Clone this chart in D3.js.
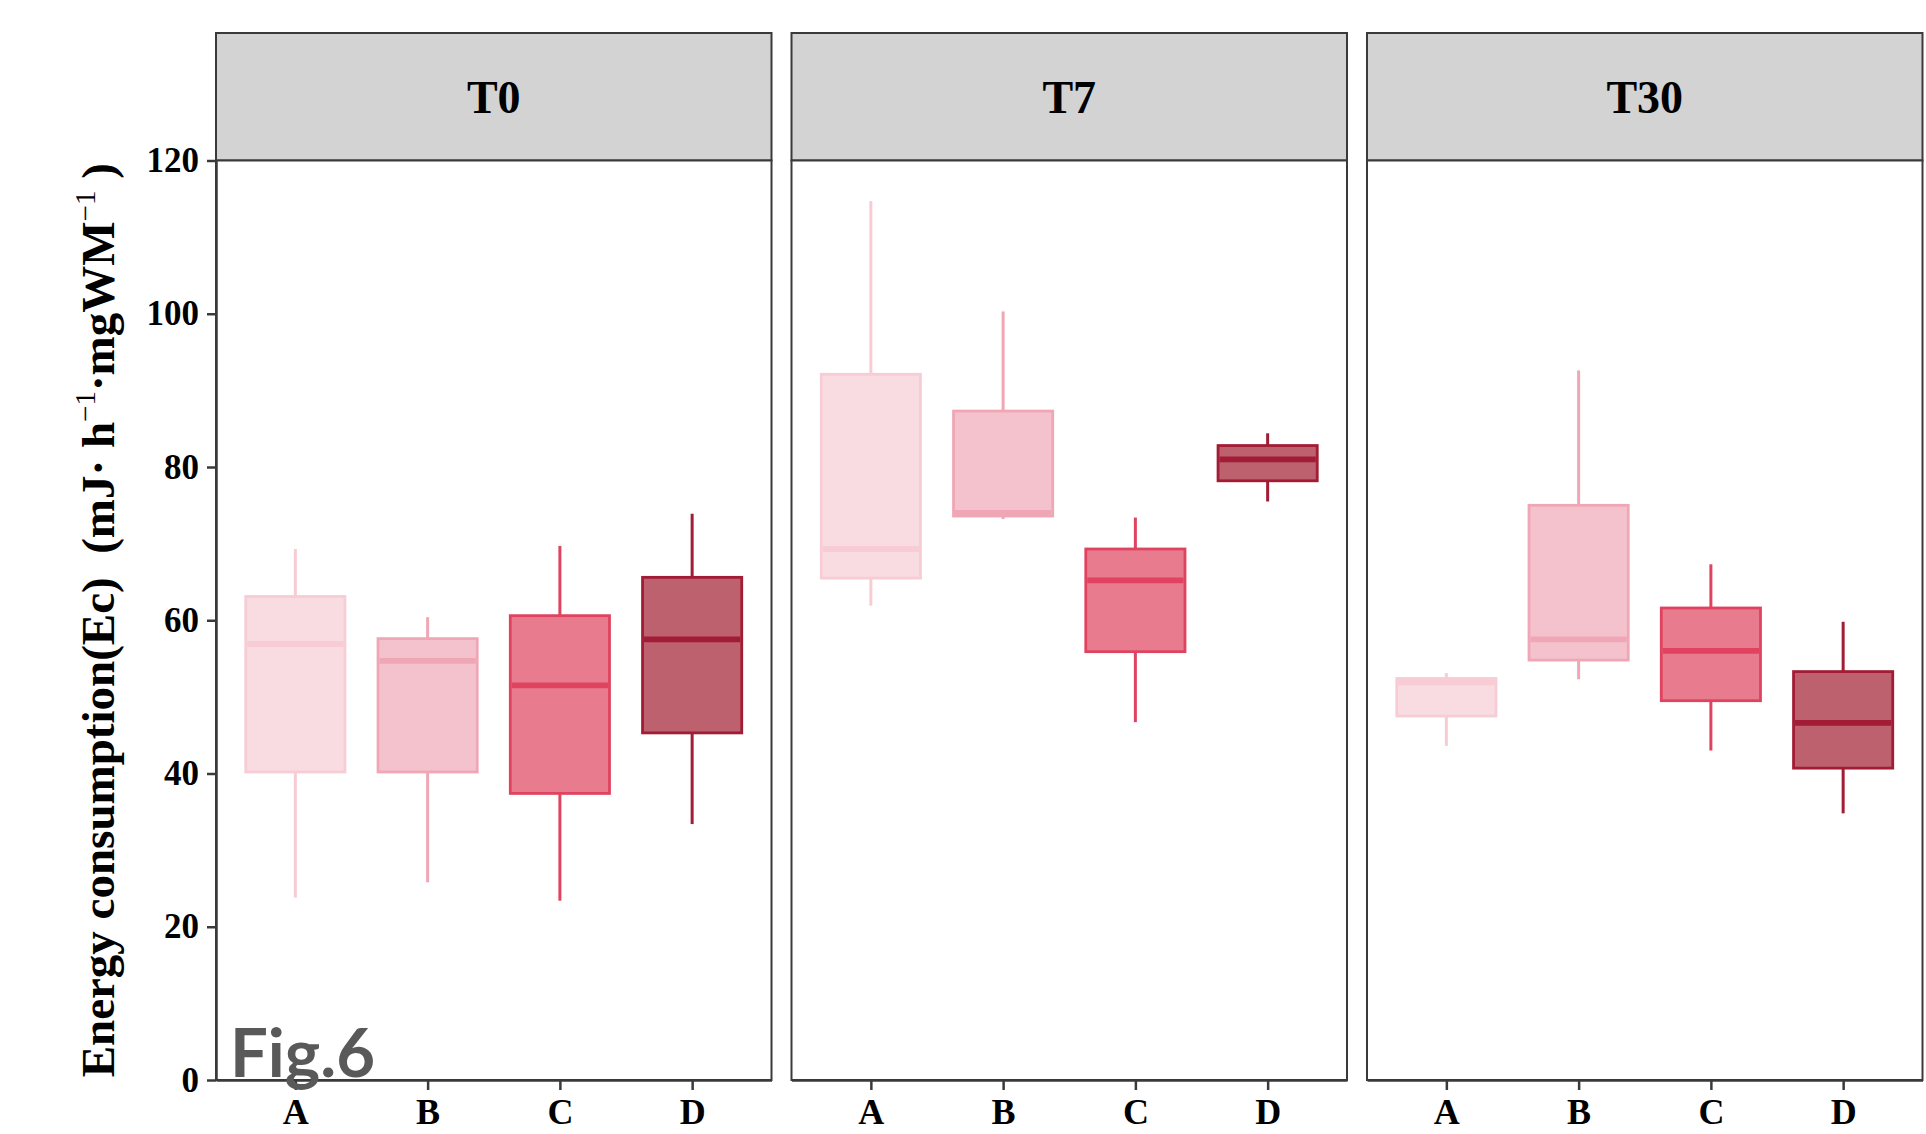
<!DOCTYPE html>
<html>
<head>
<meta charset="utf-8">
<script src="https://cdn.jsdelivr.net/npm/d3@7"></script>
<style>
  html, body { margin: 0; padding: 0; background: #ffffff; }
  svg { display: block; }
</style>
</head>
<body>
<svg id="chart" width="1926" height="1134"></svg>
<script>
// ---------- data ----------
const panels = ["T0", "T7", "T30"];
const categories = ["A", "B", "C", "D"];
// each entry: [lower whisker, Q1, median, Q3, upper whisker]
const statsT0 = [
  [23.8, 40.2, 56.9, 63.1, 69.3],
  [25.8, 40.2, 54.7, 57.6, 60.4],
  [23.4, 37.4, 51.5, 60.6, 69.7],
  [33.4, 45.3, 57.5, 65.6, 73.9]
];
const statsT7 = [
  [61.9, 65.5, 69.3, 92.1, 114.7],
  [73.2, 73.6, 74.0, 87.3, 100.3],
  [46.7, 55.9, 65.2, 69.3, 73.4],
  [75.5, 78.2, 81.0, 82.8, 84.4]
];
const statsT30 = [
  [43.6, 47.5, 51.9, 52.4, 53.1],
  [52.3, 54.8, 57.5, 75.0, 92.6],
  [43.0, 49.5, 56.0, 61.6, 67.3],
  [34.8, 40.7, 46.6, 53.3, 59.8]
];
const panelStats = [statsT0, statsT7, statsT30];
const yTicks = [0, 20, 40, 60, 80, 100, 120];
const yTitleMain = "Energy consumption(Ec)";

// ---------- styles ----------
const fillColors   = ["#f9dce2", "#f4c2cc", "#e87b8e", "#bd616e"];
const strokeColors = ["#f7ccd5", "#f0a7b5", "#e0435f", "#a11c34"];

const svg = d3.select("#chart");
const firstLeft = 216, panelW = 555.5, gap = 20;
const stripTop = 33, plotTop = 160.5, plotBottom = 1080;
const borderColor = "#3a3a3a";
const serif = "'Liberation Serif', 'Times New Roman', serif";

const y = d3.scaleLinear().domain([0, 120]).range([plotBottom, plotTop]);

panels.forEach((p, pi) => {
  const left = firstLeft + pi * (panelW + gap);
  const x = d3.scalePoint().domain(categories).range([left, left + panelW]).padding(0.6);
  const boxW = x.step() * 0.75;
  const g = svg.append("g");

  // strip
  g.append("rect")
    .attr("x", left).attr("y", stripTop)
    .attr("width", panelW).attr("height", plotTop - stripTop)
    .attr("fill", "#d3d3d3").attr("stroke", borderColor).attr("stroke-width", 2);
  g.append("text")
    .attr("x", left + panelW / 2).attr("y", (stripTop + plotTop) / 2)
    .attr("dy", "0.35em").attr("text-anchor", "middle")
    .attr("font-family", serif).attr("font-weight", "bold").attr("font-size", 46)
    .attr("fill", "#000").text(p);

  // panel background
  g.append("rect")
    .attr("x", left).attr("y", plotTop)
    .attr("width", panelW).attr("height", plotBottom - plotTop)
    .attr("fill", "#ffffff");

  // boxes
  const data = panelStats[pi];
  data.forEach((s, ci) => {
    const cx = x(categories[ci]);
    const [lo, q1, med, q3, hi] = s;
    const bg = g.append("g");
    bg.append("line")
      .attr("x1", cx).attr("x2", cx).attr("y1", y(hi)).attr("y2", y(q3))
      .attr("stroke", strokeColors[ci]).attr("stroke-width", 3);
    bg.append("line")
      .attr("x1", cx).attr("x2", cx).attr("y1", y(q1)).attr("y2", y(lo))
      .attr("stroke", strokeColors[ci]).attr("stroke-width", 3);
    bg.append("rect")
      .attr("x", cx - boxW / 2).attr("y", y(q3))
      .attr("width", boxW).attr("height", y(q1) - y(q3))
      .attr("fill", fillColors[ci]).attr("stroke", strokeColors[ci]).attr("stroke-width", 2.8);
    bg.append("line")
      .attr("x1", cx - boxW / 2 + 1.5).attr("x2", cx + boxW / 2 - 1.5)
      .attr("y1", y(med)).attr("y2", y(med))
      .attr("stroke", strokeColors[ci]).attr("stroke-width", 5.8);
  });

  // panel border
  g.append("rect")
    .attr("x", left).attr("y", plotTop)
    .attr("width", panelW).attr("height", plotBottom - plotTop)
    .attr("fill", "none").attr("stroke", borderColor).attr("stroke-width", 2);

  // x axis
  const xAxis = d3.axisBottom(x).tickSize(10).tickSizeOuter(0).tickPadding(8);
  const xg = g.append("g").attr("transform", `translate(0,${plotBottom})`).call(xAxis);
  xg.select(".domain").attr("stroke", borderColor).attr("stroke-width", 2.5);
  xg.selectAll(".tick line").attr("stroke", borderColor).attr("stroke-width", 2.5);
  xg.selectAll(".tick text")
    .attr("font-family", serif).attr("font-weight", "bold").attr("font-size", 36)
    .attr("fill", "#000");

  if (pi === 0) {
    const yAxis = d3.axisLeft(y).tickValues(yTicks).tickSize(9).tickSizeOuter(0).tickPadding(8);
    const yg = g.append("g").attr("transform", `translate(${left},0)`).call(yAxis);
    yg.select(".domain").attr("stroke", borderColor).attr("stroke-width", 2.5);
    yg.selectAll(".tick line").attr("stroke", borderColor).attr("stroke-width", 2.5);
    yg.selectAll(".tick text")
      .attr("font-family", serif).attr("font-weight", "bold").attr("font-size", 35)
      .attr("fill", "#000");
  }
});

// y axis title
const yt = svg.append("text")
  .attr("transform", `translate(114,${(plotTop + plotBottom) / 2}) rotate(-90)`)
  .attr("text-anchor", "middle")
  .attr("font-family", serif).attr("font-weight", "bold").attr("font-size", 47)
  .attr("fill", "#000");
yt.append("tspan").text(yTitleMain + "\u00a0\u00a0(mJ\u00b7 h");
yt.append("tspan").attr("dy", -19).attr("font-size", 29).attr("font-weight", "normal").text("\u22121");
yt.append("tspan").attr("dy", 19).text("\u00b7mgWM");
yt.append("tspan").attr("dy", -19).attr("font-size", 29).attr("font-weight", "normal").text("\u22121");
yt.append("tspan").attr("dy", 19).text("\u00a0)");

// Fig label
svg.append("text")
  .attr("x", 230).attr("y", 1077)
  .attr("font-family", "Lato, 'Open Sans', sans-serif").attr("font-weight", "bold")
  .attr("font-size", 67).attr("fill", "#595959")
  .text("Fig.6");
</script>
</body>
</html>
